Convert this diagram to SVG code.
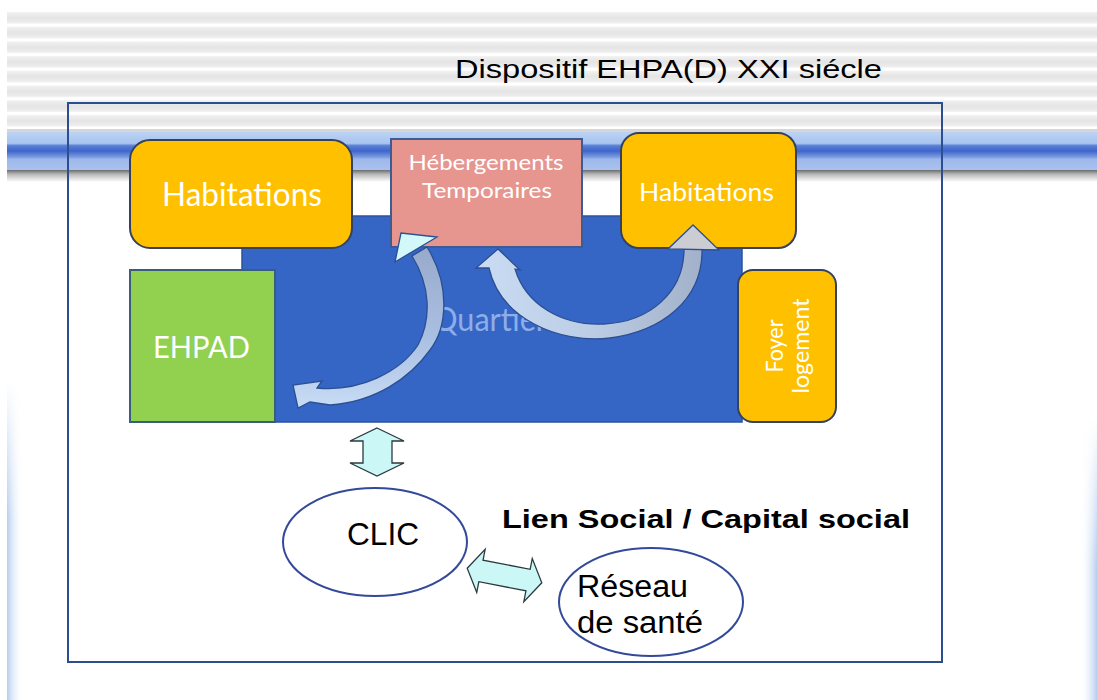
<svg xmlns="http://www.w3.org/2000/svg" width="1097" height="700" viewBox="0 0 1097 700">
  <defs>
    <linearGradient id="stripeGrad" x1="0" y1="0" x2="0" y2="1">
      <stop offset="0" stop-color="#f2f2f2"/>
      <stop offset="0.5" stop-color="#e4e4e4"/>
      <stop offset="1" stop-color="#efefef"/>
    </linearGradient>
    <pattern id="stripes" patternUnits="userSpaceOnUse" x="0" y="12" width="20" height="14.7">
      <rect x="0" y="0" width="20" height="14.7" fill="#ffffff"/>
      <rect x="0" y="0" width="20" height="11.5" fill="url(#stripeGrad)"/>
    </pattern>
    <linearGradient id="bandGrad" x1="0" y1="0" x2="0" y2="1">
      <stop offset="0" stop-color="#bcd3f3"/>
      <stop offset="0.3" stop-color="#a7c3ef"/>
      <stop offset="0.36" stop-color="#5a7fd6"/>
      <stop offset="0.5" stop-color="#3f65cb"/>
      <stop offset="0.64" stop-color="#7394de"/>
      <stop offset="0.72" stop-color="#9db8ea"/>
      <stop offset="1" stop-color="#a9c2ee"/>
    </linearGradient>
    <linearGradient id="shadowGrad" x1="0" y1="0" x2="0" y2="1">
      <stop offset="0" stop-color="#6c6c6c"/>
      <stop offset="0.35" stop-color="#b8b8b8"/>
      <stop offset="1" stop-color="#ffffff"/>
    </linearGradient>
    <linearGradient id="leftEdge" x1="0" y1="0" x2="1" y2="0">
      <stop offset="0" stop-color="#b4cdee"/>
      <stop offset="1" stop-color="#ffffff" stop-opacity="0"/>
    </linearGradient>
    <linearGradient id="rightEdge" x1="1" y1="0" x2="0" y2="0">
      <stop offset="0" stop-color="#b4cdee"/>
      <stop offset="1" stop-color="#ffffff" stop-opacity="0"/>
    </linearGradient>
    <linearGradient id="fadeDown" x1="0" y1="0" x2="0" y2="1">
      <stop offset="0" stop-color="#ffffff" stop-opacity="1"/>
      <stop offset="1" stop-color="#ffffff" stop-opacity="0"/>
    </linearGradient>
    <linearGradient id="arcLeft" x1="0" y1="0" x2="0" y2="1">
      <stop offset="0" stop-color="#98aacb"/>
      <stop offset="0.55" stop-color="#a9bfe2"/>
      <stop offset="1" stop-color="#c8dcf5"/>
    </linearGradient>
    <linearGradient id="arcU" x1="0" y1="0" x2="1" y2="0">
      <stop offset="0" stop-color="#cadcf4"/>
      <stop offset="0.5" stop-color="#bccde6"/>
      <stop offset="1" stop-color="#a2b1c9"/>
    </linearGradient>
    <style>
      .frame { fill: none; stroke: #2c4d8e; stroke-width: 2; }
      .hab { fill: #ffc000; stroke: #34425e; stroke-width: 2; }
      .lbl { fill: #ffffff; font-family: Lato, "Open Sans", "Liberation Sans", sans-serif; }
      .blk { fill: #000000; font-family: "Liberation Sans", Arial, sans-serif; }
      .dbl { fill: #ccf7f7; stroke: #2b3a40; stroke-width: 1.3; stroke-linejoin: miter; }
      .ell { fill: #ffffff; stroke: #34499a; stroke-width: 2; }
      .arc { stroke: #2c4f93; stroke-width: 1.3; }
    </style>
  </defs>

  <!-- page background -->
  <rect x="0" y="0" width="1097" height="700" fill="#ffffff"/>
  <rect x="7" y="12" width="1090" height="119" fill="url(#stripes)"/>
  <rect x="7" y="129" width="1090" height="3" fill="#d6d6d6"/>
  <rect x="7" y="132" width="1090" height="38" fill="url(#bandGrad)"/>
  <rect x="7" y="170" width="1090" height="12" fill="url(#shadowGrad)"/>
  <g>
    <rect x="7" y="380" width="16" height="320" fill="url(#leftEdge)"/>
    <rect x="7" y="380" width="16" height="140" fill="url(#fadeDown)"/>
    <rect x="1080" y="420" width="17" height="280" fill="url(#rightEdge)"/>
    <rect x="1080" y="420" width="17" height="150" fill="url(#fadeDown)"/>
  </g>

  <!-- title -->
  <text class="blk" x="455" y="78" font-size="26" textLength="427" lengthAdjust="spacingAndGlyphs">Dispositif EHPA(D) XXI siécle</text>

  <!-- outer frame -->
  <rect class="frame" x="68" y="103" width="874" height="559"/>

  <!-- neighbourhood block -->
  <g id="quartier">
    <rect x="242" y="216" width="500" height="206" fill="#3566c6" stroke="#2d52a0" stroke-width="1.5"/>
    <text x="433" y="331" font-size="33" fill="#8eaee9" font-family="Lato, 'Open Sans', 'Liberation Sans', sans-serif" textLength="114" lengthAdjust="spacingAndGlyphs">Quartier</text>
  </g>

  <g id="habitations-left">
    <rect class="hab" x="130" y="140" width="222" height="108" rx="20"/>
    <text class="lbl" x="162" y="206" font-size="32" textLength="160" lengthAdjust="spacingAndGlyphs">Habitations</text>
  </g>

  <g id="hebergements">
    <rect x="391" y="139" width="191" height="108" fill="#e6968f" stroke="#3e5c94" stroke-width="2"/>
    <text class="lbl" x="486" y="170" font-size="21" text-anchor="middle" textLength="155" lengthAdjust="spacingAndGlyphs">Hébergements</text>
    <text class="lbl" x="487" y="198" font-size="21" text-anchor="middle" textLength="130" lengthAdjust="spacingAndGlyphs">Temporaires</text>
  </g>

  <g id="habitations-right">
    <rect class="hab" x="621" y="133" width="175" height="115" rx="18"/>
    <text class="lbl" x="639" y="201" font-size="25" textLength="135" lengthAdjust="spacingAndGlyphs">Habitations</text>
  </g>

  <g id="ehpad">
    <rect x="130" y="270" width="145" height="152" fill="#92d050" stroke="#385e7c" stroke-width="2"/>
    <text class="lbl" x="153" y="358" font-size="30" textLength="97" lengthAdjust="spacingAndGlyphs">EHPAD</text>
  </g>

  <g id="foyer-logement">
    <rect class="hab" x="738" y="270" width="98" height="152" rx="15"/>
    <text class="lbl" font-size="23" text-anchor="middle" transform="translate(783 346) rotate(-90)" textLength="53" lengthAdjust="spacingAndGlyphs">Foyer</text>
    <text class="lbl" font-size="23" text-anchor="middle" transform="translate(809 346) rotate(-90)" textLength="95" lengthAdjust="spacingAndGlyphs">logement</text>
  </g>

  <g id="clic">
    <ellipse class="ell" cx="375" cy="542" rx="92" ry="54"/>
    <text class="blk" x="347" y="545" font-size="31" textLength="72" lengthAdjust="spacingAndGlyphs">CLIC</text>
  </g>

  <g id="reseau-sante">
    <ellipse class="ell" cx="651" cy="602" rx="92" ry="54"/>
    <text class="blk" x="577" y="597" font-size="31" textLength="111" lengthAdjust="spacingAndGlyphs">Réseau</text>
    <text class="blk" x="577" y="633" font-size="31" textLength="126" lengthAdjust="spacingAndGlyphs">de santé</text>
  </g>

  <text class="blk" x="502" y="528" font-size="26" font-weight="bold" textLength="408" lengthAdjust="spacingAndGlyphs">Lien Social / Capital social</text>

  <!-- connectors -->
  <g id="connectors">
    <!-- curved arrow between temporary housing and EHPAD -->
    <path class="arc" fill="url(#arcLeft)" d="M427,247 C451,286 447,328 430,350 C410,378 375,402 330,405 L310,402 L298,408 L293,385 L322,381 L317,388 C360,392 400,372 418,345 C432,318 430,285 412,256 Z"/>
    <polygon class="arc" fill="#d2f8f9" points="395,262 401,233 437,237"/>

    <!-- U-shaped arrow between housing and temporary housing -->
    <path class="arc" fill="url(#arcU)" d="M684,249 C684,292 650,322 604,324 C562,326 526,305 515,269 L520,270 L498,249 L476,268 L489,268 C500,318 558,344 610,338 C662,331 703,300 702,249 Z"/>
    <polygon class="arc" fill="#cbcdd3" points="693,225 668,249 719,250"/>

    <!-- vertical double arrow: quartier / CLIC -->
    <polygon class="dbl" points="377,428 404,441 392,441 392,463 404,463 377,476 350,463 363,463 363,441 350,441"/>

    <!-- double arrow: CLIC / réseau de santé -->
    <polygon class="dbl" transform="translate(504.5 575.5) rotate(11)" points="-38,0 -24,-22 -24,-11 24,-11 24,-22 38,0 24,22 24,11 -24,11 -24,22"/>
  </g>
</svg>
